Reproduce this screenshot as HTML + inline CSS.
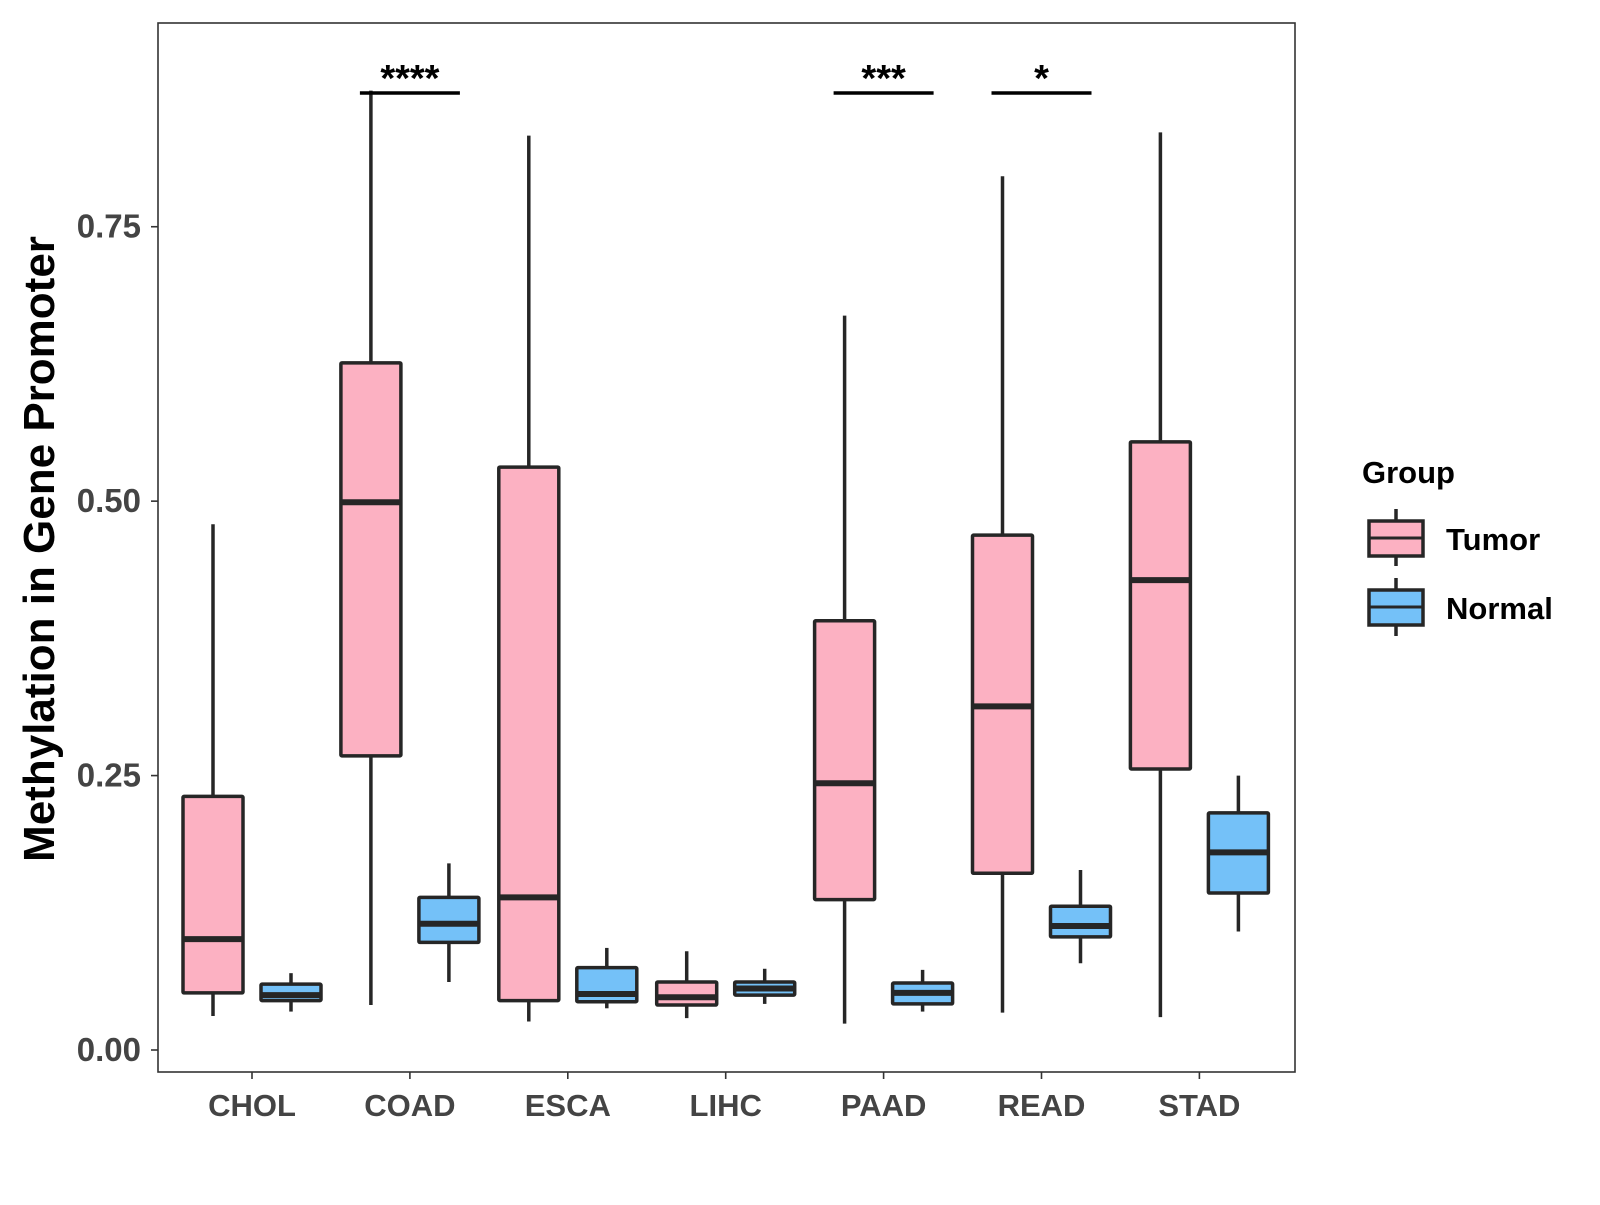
<!DOCTYPE html>
<html><head><meta charset="utf-8"><style>
body{margin:0;background:#fff}
svg text{font-family:"Liberation Sans",Arial,sans-serif;font-weight:bold}
</style></head><body>
<svg id="chart" width="1600" height="1200" xmlns="http://www.w3.org/2000/svg">
<rect x="158" y="23" width="1137" height="1049" fill="#fff" stroke="#333" stroke-width="1.6"/>
<g id="marks"></g>
<g id="axes"></g>
<text x="0" y="0" transform="translate(54,549) rotate(-90)" text-anchor="middle" font-size="44" fill="#000">Methylation in Gene Promoter</text>
<g>
<text x="1362" y="483" font-size="31" fill="#000">Group</text>
<g>
<line x1="1396" y1="509" x2="1396" y2="566" stroke="#262626" stroke-width="3.5"/>
<rect x="1369" y="521" width="54" height="35" fill="#FCB1C2" stroke="#262626" stroke-width="3.5"/>
<line x1="1369" y1="538" x2="1423" y2="538" stroke="#262626" stroke-width="3"/>
<text x="1446" y="550" font-size="31" fill="#000">Tumor</text></g>
<g>
<line x1="1396" y1="578" x2="1396" y2="636" stroke="#262626" stroke-width="3.5"/>
<rect x="1369" y="590" width="54" height="35" fill="#74C1F8" stroke="#262626" stroke-width="3.5"/>
<line x1="1369" y1="607" x2="1423" y2="607" stroke="#262626" stroke-width="3"/>
<text x="1446" y="619" font-size="31" fill="#000">Normal</text></g>
</g>
</svg>
<script>
const categories=["CHOL","COAD","ESCA","LIHC","PAAD","READ","STAD"];
const tumorMin=[0.031,0.041,0.026,0.029,0.024,0.034,0.030];
const tumorQ1=[0.052,0.268,0.045,0.041,0.137,0.161,0.256];
const tumorMed=[0.101,0.499,0.139,0.048,0.243,0.313,0.428];
const tumorQ3=[0.231,0.626,0.531,0.062,0.391,0.469,0.554];
const tumorMax=[0.479,0.874,0.833,0.090,0.669,0.796,0.836];
const normalMin=[0.035,0.062,0.038,0.042,0.035,0.079,0.108];
const normalQ1=[0.045,0.098,0.044,0.050,0.042,0.103,0.143];
const normalMed=[0.050,0.115,0.051,0.056,0.052,0.113,0.180];
const normalQ3=[0.060,0.139,0.075,0.062,0.061,0.131,0.216];
const normalMax=[0.070,0.170,0.093,0.074,0.073,0.164,0.250];
const yTicks=[0,0.25,0.5,0.75];
const yTickLabels=["0.00","0.25","0.50","0.75"];
const sigCats=["COAD","PAAD","READ"];
const sigLabels=["****","***","*"];

const NS="http://www.w3.org/2000/svg";
const xC=i=>252+i*157.9;
const yS=v=>1050-v*1097.7;
const marks=document.getElementById('marks'),axes=document.getElementById('axes');
function mk(tag,attrs,parent){const e=document.createElementNS(NS,tag);for(const k in attrs)e.setAttribute(k,attrs[k]);parent.appendChild(e);return e;}
const C="#262626";
function box(cx,mn,q1,md,q3,mx,fill,name){
  const g=mk('g',{},marks);
  
  
  const w=60;
  mk('line',{x1:cx,x2:cx,y1:yS(mx),y2:yS(mn),stroke:C,'stroke-width':3.5},g);
  mk('rect',{x:cx-w/2,y:yS(q3),width:w,height:yS(q1)-yS(q3),fill:fill,stroke:C,'stroke-width':3.5,rx:1},g);
  mk('line',{x1:cx-w/2,x2:cx+w/2,y1:yS(md),y2:yS(md),stroke:C,'stroke-width':6},g);
}
categories.forEach((c,i)=>{
  box(xC(i)-39,tumorMin[i],tumorQ1[i],tumorMed[i],tumorQ3[i],tumorMax[i],"#FCB1C2","box-tumor-"+c.toLowerCase());
  box(xC(i)+39,normalMin[i],normalQ1[i],normalMed[i],normalQ3[i],normalMax[i],"#74C1F8","box-normal-"+c.toLowerCase());
  mk('line',{x1:xC(i),x2:xC(i),y1:1072,y2:1079,stroke:"#333",'stroke-width':1.6},axes);
  const t=mk('text',{x:xC(i),y:1116,'text-anchor':'middle','font-size':31,fill:'#444'},axes);
  
  
  t.textContent=c;
});
yTicks.forEach((v,i)=>{
  mk('line',{x1:151,x2:158,y1:yS(v),y2:yS(v),stroke:"#333",'stroke-width':1.6},axes);
  const t=mk('text',{x:141,y:yS(v)+11,'text-anchor':'end','font-size':33,fill:'#444'},axes);
  
  
  t.textContent=yTickLabels[i];
});
sigCats.forEach((c,k)=>{
  const i=categories.indexOf(c);
  const g=mk('g',{},marks);
  
  
  mk('line',{x1:xC(i)-50,x2:xC(i)+50,y1:93,y2:93,stroke:'#000','stroke-width':3.5},g);
  const t=mk('text',{x:xC(i),y:91,'text-anchor':'middle','font-size':38,fill:'#000'},g);
  t.textContent=sigLabels[k];
});
</script>
</body></html>
